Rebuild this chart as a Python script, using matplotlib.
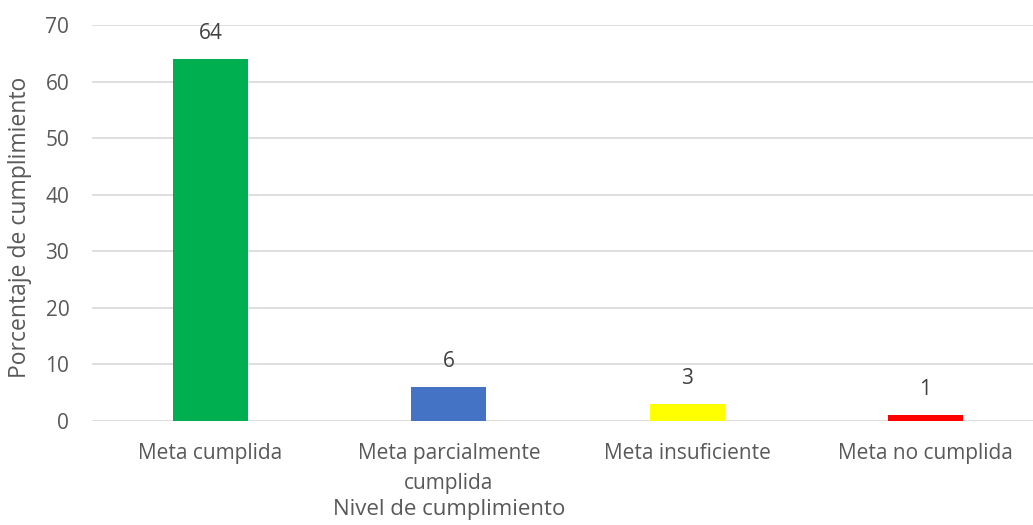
import matplotlib
matplotlib.use("Agg")
import matplotlib.pyplot as plt

categories = ["Meta cumplida", "Meta parcialmente\ncumplida", "Meta insuficiente", "Meta no cumplida"]
values = [64, 6, 3, 1]
colors = ["#00B050", "#4472C4", "#FFFF00", "#FF0000"]
yticks = [0, 10, 20, 30, 40, 50, 60, 70]

plt.rcParams['font.family'] = ['Open Sans', 'DejaVu Sans']
txt = "#595959"

fig = plt.figure(figsize=(10.33, 5.25), dpi=100)
ax = fig.add_axes([91.5/1033, (525-421)/525, 953/1033, 396/525])

x = range(len(categories))
bars = ax.bar(x, values, width=0.315, color=colors, zorder=3)
ax.set_xlim(-0.5, len(categories) - 0.5)
ax.set_ylim(0, 70)
ax.set_yticks(yticks)
ax.set_xticks(list(x))
ax.set_xticklabels(categories, fontsize=15, color=txt, linespacing=1.55)
ax.tick_params(axis='y', labelsize=15, labelcolor=txt, length=0, pad=16)
ax.tick_params(axis='x', length=0, pad=16)
ax.grid(axis='y', color="#D9D9D9", linewidth=1.2, zorder=0)
for s in ax.spines.values():
    s.set_visible(False)

for xi, v in zip(x, values):
    ax.annotate(str(v), (xi, v), xytext=(0, 11), textcoords='offset points',
                ha='center', va='bottom', fontsize=15, color="#404040")

fig.text(449.5/1033, 1 - 510/525, "Nivel de cumplimiento", ha='center', va='center',
         fontsize=16, color=txt)
fig.text(20/1033, 1 - 227/525, "Porcentaje de cumplimiento", ha='center', va='center',
         rotation=90, fontsize=16.5, color=txt)

fig.savefig("out.png", dpi=100)
